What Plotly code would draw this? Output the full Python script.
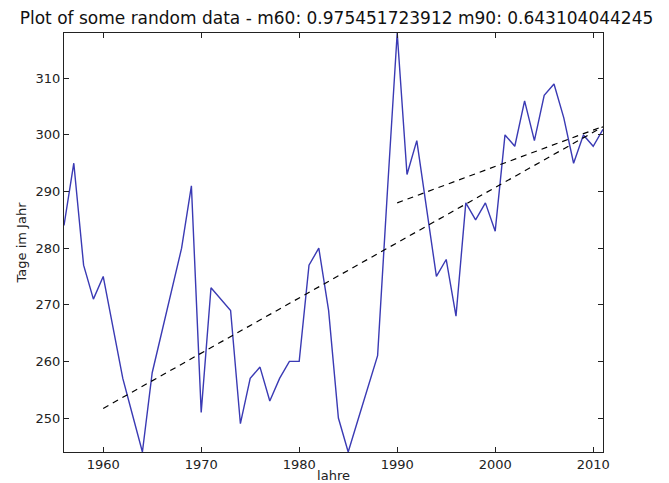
import plotly.graph_objects as go

years = list(range(1956, 2012))
days = [284, 295, 277, 271, 275, 266, 257, 250.5, 244, 258,
        265.5, 273, 280, 291, 251, 273, 271, 269, 249, 257,
        259, 253, 257, 260, 260, 277, 280, 269, 250, 244,
        249.7, 255.5, 261, 290, 318, 293, 299, 287, 275, 278,
        268, 288, 285, 288, 283, 300, 298, 306, 299, 307,
        309, 303, 295, 300, 298, 301]

# trend lines (slope from title, start value)
m60 = 0.975451723912
m90 = 0.643104044245
start60, start90 = 1960, 1990
b60 = 251.7
b90 = 288.0
end_year = 2011

x60 = [start60, end_year]
y60 = [b60, b60 + m60 * (end_year - start60)]
x90 = [start90, end_year]
y90 = [b90, b90 + m90 * (end_year - start90)]

title_text = "Plot of some random data - m60: 0.975451723912 m90: 0.643104044245"
xticks = [1960, 1970, 1980, 1990, 2000, 2010]
yticks = [250, 260, 270, 280, 290, 300, 310]

fig = go.Figure()
fig.add_trace(go.Scatter(x=years, y=days, mode="lines",
                         line=dict(color="#3a3ab4", width=1.4), showlegend=False))
fig.add_trace(go.Scatter(x=x60, y=y60, mode="lines",
                         line=dict(color="black", width=1.2, dash="6px,5px"), showlegend=False))
fig.add_trace(go.Scatter(x=x90, y=y90, mode="lines",
                         line=dict(color="black", width=1.2, dash="6px,5px"), showlegend=False))

axis_common = dict(showgrid=False, zeroline=False, showline=True, mirror="ticks",
                   linecolor="#222", linewidth=1, ticks="inside", ticklen=5, automargin=False,
                   tickcolor="#222", tickfont=dict(family="DejaVu Sans", size=13, color="#222"))

fig.update_layout(
    width=669, height=483,
    margin=dict(l=64, r=66, t=33, b=31),
    paper_bgcolor="white", plot_bgcolor="white",
    font=dict(family="DejaVu Sans", color="#222"),
    title=dict(text=title_text, x=0.503, xanchor="center", y=0.962, yanchor="middle",
               font=dict(family="DejaVu Sans", size=17, color="#111")),
    xaxis=dict(range=[1956, 2011], tickvals=xticks, title=dict(text="lahre", standoff=0,
               font=dict(size=13)), **axis_common),
    yaxis=dict(range=[244, 318], tickvals=yticks, title=dict(text="Tage im Jahr", standoff=6,
               font=dict(size=13)), **axis_common),
)

fig.write_html("out.html")
